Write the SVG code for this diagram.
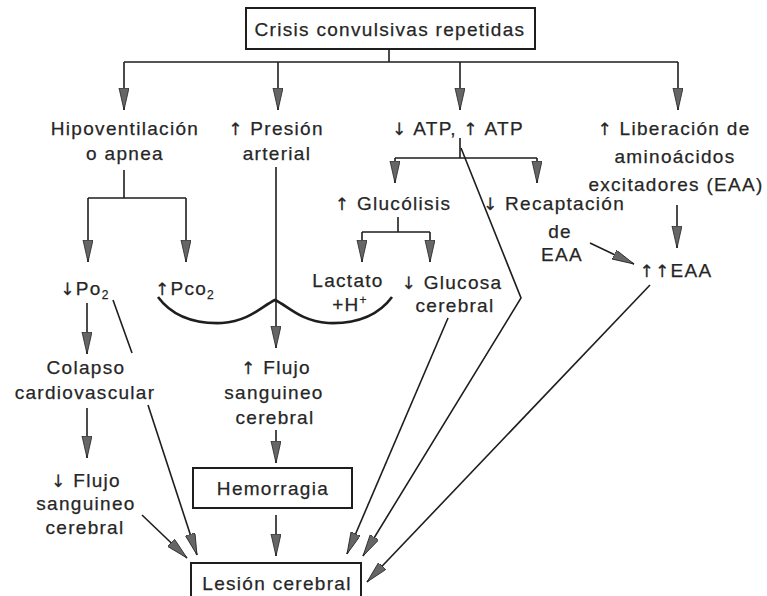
<svg xmlns="http://www.w3.org/2000/svg" width="767" height="596" viewBox="0 0 767 596">
<style>
  text { font-family: "Liberation Sans", Arial, sans-serif; font-size: 19px; letter-spacing: 1.3px; fill: #262626; stroke: #262626; stroke-width: 0.25; text-anchor: middle; }
  .arw { font-family: "DejaVu Sans", sans-serif; font-size: 17px; }
  .ln { stroke: #1e1e1e; stroke-width: 1.6; fill: none; }
  .ar { marker-end: url(#ah); }
  .box { fill: #fff; stroke: #1e1e1e; stroke-width: 2; }
  .sub { font-size: 12px; }
</style>
<defs>
  <marker id="ah" markerUnits="userSpaceOnUse" markerWidth="24" markerHeight="12" refX="22" refY="5" orient="auto">
    <path d="M0,0 L22,5 L0,10 Z" fill="#666" stroke="#222" stroke-width="0.8"/>
  </marker>
</defs>
<rect width="767" height="596" fill="#fff"/>

<g id="connectors">
  <path class="ln" d="M389,49 V62 M124,62 H678"/>
  <path class="ln ar" d="M124,62 V110"/>
  <path class="ln ar" d="M278,62 V110"/>
  <path class="ln ar" d="M460,62 V110"/>
  <path class="ln ar" d="M678,62 V110"/>
  <path class="ln" d="M124,170 V198 M88,198 H186"/>
  <path class="ln ar" d="M88,198 V262"/>
  <path class="ln ar" d="M186,198 V262"/>
  <path class="ln ar" d="M276,167 V348"/>
  <path d="M158,297 C172,316 195,324 222,323 C250,321 262,306 275,300 C288,306 300,321 328,323 C355,324 378,316 392,297" fill="none" stroke="#1e1e1e" stroke-width="2.6"/>
  <path class="ln" d="M460,138 V158 M395,158 H537"/>
  <path class="ln ar" d="M395,158 V183"/>
  <path class="ln ar" d="M537,158 V183"/>
  <path class="ln ar" d="M461,148 L521,298 L363,556"/>
  <path class="ln" d="M398,217 V232 M362,232 H430"/>
  <path class="ln ar" d="M362,232 V262"/>
  <path class="ln ar" d="M430,232 V262"/>
  <path class="ln ar" d="M448,318 L347,554"/>
  <path class="ln ar" d="M677,205 V248"/>
  <path class="ln ar" d="M590,243 L634,264"/>
  <path class="ln ar" d="M650,285 L367,582"/>
  <path class="ln ar" d="M87,303 V354"/>
  <path class="ln" d="M113,300 L132,353"/>
  <path class="ln ar" d="M148,405 L197,555"/>
  <path class="ln ar" d="M87,408 V458"/>
  <path class="ln ar" d="M142,515 L187,558"/>
  <path class="ln ar" d="M276,430 V463"/>
  <path class="ln ar" d="M276,515 V556"/>
</g>

<g id="crisis">
  <rect class="box" x="246" y="8" width="289" height="41"/>
  <text x="390" y="36">Crisis convulsivas repetidas</text>
</g>
<g id="hipoventilacion">
  <text x="125" y="135">Hipoventilación</text>
  <text x="125" y="160">o apnea</text>
</g>
<g id="presion">
  <text x="276" y="135"><tspan class="arw">↑</tspan> Presión</text>
  <text x="277" y="160">arterial</text>
</g>
<g id="atp">
  <text x="458" y="135"><tspan class="arw">↓</tspan> ATP, <tspan class="arw">↑</tspan> ATP</text>
</g>
<g id="liberacion">
  <text x="674" y="135"><tspan class="arw">↑</tspan> Liberación de</text>
  <text x="675" y="163">aminoácidos</text>
  <text x="676" y="191">excitadores (EAA)</text>
</g>
<g id="po2">
  <text x="85" y="295"><tspan class="arw">↓</tspan>Po<tspan class="sub" dy="4">2</tspan></text>
</g>
<g id="pco2">
  <text x="185" y="295"><tspan class="arw">↑</tspan>Pco<tspan class="sub" dy="4">2</tspan></text>
</g>
<g id="glucolisis">
  <text x="393" y="210"><tspan class="arw">↑</tspan> Glucólisis</text>
</g>
<g id="recaptacion">
  <text x="554" y="210"><tspan class="arw">↓</tspan> Recaptación</text>
  <text x="560" y="238">de</text>
  <text x="562" y="261">EAA</text>
</g>
<g id="eaa2">
  <text x="676" y="277"><tspan class="arw">↑↑</tspan>EAA</text>
</g>
<g id="lactato">
  <text x="348" y="287">Lactato</text>
  <text x="350" y="311">+H<tspan class="sub" dy="-7">+</tspan></text>
</g>
<g id="glucosa">
  <text x="452" y="289"><tspan class="arw">↓</tspan> Glucosa</text>
  <text x="455" y="312">cerebral</text>
</g>
<g id="colapso">
  <text x="86" y="374">Colapso</text>
  <text x="85" y="399">cardiovascular</text>
</g>
<g id="flujo-down">
  <text x="86" y="487"><tspan class="arw">↓</tspan> Flujo</text>
  <text x="86" y="510">sanguineo</text>
  <text x="85" y="534">cerebral</text>
</g>
<g id="flujo-up">
  <text x="276" y="374"><tspan class="arw">↑</tspan> Flujo</text>
  <text x="274" y="399">sanguineo</text>
  <text x="275" y="424">cerebral</text>
</g>
<g id="hemorragia">
  <rect class="box" x="193" y="468" width="159" height="40"/>
  <text x="273" y="495">Hemorragia</text>
</g>
<g id="lesion">
  <rect class="box" x="191" y="563" width="170" height="45"/>
  <text x="277" y="590">Lesión cerebral</text>
</g>
</svg>
